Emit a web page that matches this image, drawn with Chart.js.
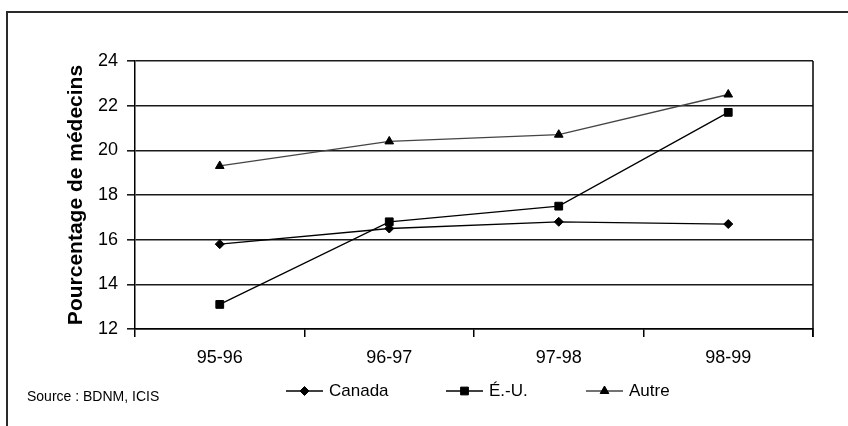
<!DOCTYPE html>
<html>
<head>
<meta charset="utf-8">
<script src="https://cdn.jsdelivr.net/npm/chart.js@4.4.1/dist/chart.umd.min.js"></script>
<style>
  html, body { margin: 0; padding: 0; background: #fff; }
  canvas { display: block; }
</style>
</head>
<body>
<canvas id="graphique" width="848" height="426"></canvas>
<script>
// Données du graphique
const annees = ['95-96', '96-97', '97-98', '98-99'];
const canada = [15.8, 16.5, 16.8, 16.7];
const etatsUnis = [13.1, 16.8, 17.5, 21.7];
const autre = [19.3, 20.4, 20.7, 22.5];
const nomsSeries = ['Canada', 'É.-U.', 'Autre'];
const yMin = 12, yMax = 24, yPas = 2;

const police = 'Arial, "Liberation Sans", sans-serif';

// Cadre extérieur + bordure droite de la zone de tracé
const cadre = {
    id: 'cadre',
    afterDraw(chart) {
        const ctx = chart.ctx;
        const a = chart.chartArea;
        ctx.save();
        ctx.strokeStyle = '#2a2a2a';
        ctx.lineWidth = 2;
        ctx.beginPath();
        ctx.moveTo(848, 12);
        ctx.lineTo(7, 12);
        ctx.lineTo(7, 426);
        ctx.stroke();
        ctx.strokeStyle = '#000';
        ctx.lineWidth = 1.5;
        ctx.beginPath();
        ctx.moveTo(a.right, a.top);
        ctx.lineTo(a.right, a.bottom + 8);
        ctx.stroke();
        // source
        ctx.fillStyle = '#000';
        ctx.font = '14px ' + police;
        ctx.textBaseline = 'middle';
        ctx.fillText('Source : BDNM, ICIS', 27, 397);
        ctx.restore();
    }
};

// Légende avec trait + marqueur, comme dans Excel
const legende = {
    id: 'legendeLigne',
    afterDraw(chart, args, opts) {
        const ctx = chart.ctx;
        ctx.save();
        ctx.font = '17px ' + police;
        ctx.textBaseline = 'middle';
        chart.data.datasets.forEach((ds, i) => {
            const x0 = opts.debuts[i];
            const y = opts.y;
            ctx.strokeStyle = ds.borderColor;
            ctx.lineWidth = ds.borderWidth;
            ctx.beginPath();
            ctx.moveTo(x0, y);
            ctx.lineTo(x0 + opts.longueur, y);
            ctx.stroke();
            ctx.fillStyle = ds.pointBackgroundColor;
            ctx.strokeStyle = ds.pointBorderColor;
            ctx.lineWidth = 1;
            Chart.helpers.drawPoint(ctx, {
                pointStyle: ds.pointStyle,
                radius: ds.pointRadius,
                rotation: 0,
                borderWidth: 1
            }, x0 + opts.longueur / 2, y);
            ctx.fillStyle = '#000';
            ctx.fillText(ds.label, x0 + opts.longueur + 6, y);
        });
        ctx.restore();
    }
};

function serie(label, data, couleur, style, rayon) {
    return {
        label: label,
        data: data,
        borderColor: couleur,
        borderWidth: 1.3,
        pointStyle: style,
        pointRadius: rayon,
        pointHoverRadius: rayon,
        pointBackgroundColor: '#000',
        pointBorderColor: '#000',
        pointBorderWidth: 1,
        tension: 0,
        fill: false
    };
}

new Chart(document.getElementById('graphique'), {
    type: 'line',
    data: {
        labels: annees,
        datasets: [
            serie(nomsSeries[0], canada, '#000', 'rectRot', 4.5),
            serie(nomsSeries[1], etatsUnis, '#000', 'rect', 5.5),
            serie(nomsSeries[2], autre, '#444', 'triangle', 5)
        ]
    },
    options: {
        responsive: false,
        animation: false,
        layout: { padding: { left: 0, top: 61, right: 35, bottom: 0 } },
        plugins: {
            legend: { display: false },
            tooltip: { enabled: false },
            legendeLigne: { debuts: [286, 446, 586], longueur: 37, y: 391 }
        },
        scales: {
            x: {
                offset: true,
                afterFit: s => { s.height = 97; },
                grid: {
                    offset: true,
                    drawOnChartArea: false,
                    drawTicks: true,
                    tickLength: 8,
                    color: '#000',
                    lineWidth: 1.5
                },
                border: { color: '#000', width: 1.5 },
                ticks: {
                    color: '#000',
                    padding: 10,
                    font: { family: police, size: 18 }
                }
            },
            y: {
                min: yMin,
                max: yMax,
                afterFit: s => { s.width = 135; },
                grid: {
                    color: '#1a1a1a',
                    lineWidth: 1.6,
                    tickLength: 8
                },
                border: { color: '#000', width: 1.5 },
                ticks: {
                    stepSize: yPas,
                    color: '#000',
                    padding: 9,
                    font: { family: police, size: 18 }
                },
                title: {
                    display: true,
                    text: 'Pourcentage de médecins',
                    color: '#000',
                    padding: { top: 64, bottom: 0 },
                    font: { family: police, size: 21, weight: 'bold' }
                }
            }
        }
    },
    plugins: [cadre, legende]
});
</script>
</body>
</html>
